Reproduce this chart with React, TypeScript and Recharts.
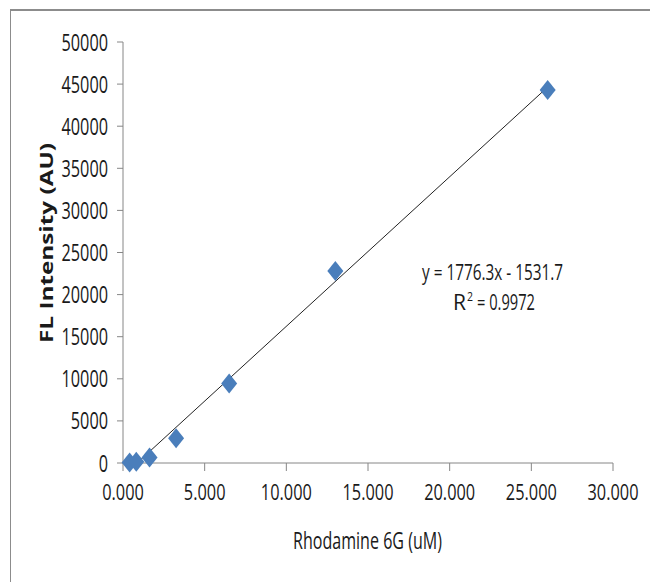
import React from 'react';
import { ScatterChart, Scatter, XAxis, YAxis } from 'recharts';

const concentrations = [0.406, 0.8125, 1.625, 3.25, 6.5, 13, 26];
const intensities = [50, 150, 650, 2950, 9450, 22800, 44300];
const xTicks = [0, 5, 10, 15, 20, 25, 30];
const yTicks = [0, 5000, 10000, 15000, 20000, 25000, 30000, 35000, 40000, 45000, 50000];
// trend line ends, clipped at the x axis
const trendX = [0.86, 26];
const trendY = [0, 44650];

const points = concentrations.map((x, i) => ({ x, y: intensities[i] }));
const trend = trendX.map((x, i) => ({ x, y: trendY[i] }));

const FONT = '"Open Sans", sans-serif';
const AXIS = '#868686';
const TEXT = '#1a1a1a';

// the original text is tall and narrow (stretched Excel chart), so squeeze it with textLength
const numWidth = (s: string) =>
  s.split('').reduce((w, c) => w + (c === '.' ? 4.5 : 9.3), 0);

const XTick = (props: any) => {
  const { x, y, payload } = props;
  const s = Number(payload.value).toFixed(3);
  return (
    <text x={x} y={y + 27} textAnchor="middle" fontFamily={FONT} fontSize={22.5} fill={TEXT}
      textLength={numWidth(s)} lengthAdjust="spacingAndGlyphs">
      {s}
    </text>
  );
};

const YTick = (props: any) => {
  const { x, y, payload } = props;
  const s = String(payload.value);
  return (
    <text x={x - 7} y={y + 8.5} textAnchor="end" fontFamily={FONT} fontSize={24} fill={TEXT}
      textLength={numWidth(s)} lengthAdjust="spacingAndGlyphs">
      {s}
    </text>
  );
};

const Diamond = (props: any) => {
  const { cx, cy } = props;
  if (cx == null || cy == null) return null;
  return (
    <polygon
      points={`${cx},${cy - 10} ${cx + 8},${cy} ${cx},${cy + 10} ${cx - 8},${cy}`}
      fill="#4A7EBB"
    />
  );
};

export default function App() {
  return (
    <div style={{ position: 'absolute', left: 0, top: 0, width: 650, height: 582, background: '#fff' }}>
      <div style={{ position: 'absolute', left: 10, top: 9, width: 640, height: 573, borderTop: '2px solid #8c8c8c', borderLeft: '1px solid #8c8c8c' }} />
      <div style={{ position: 'absolute', left: 0, top: 0 }}>
        <ScatterChart width={650} height={582} margin={{ top: 42, right: 37, bottom: 89, left: 63 }}>
          <XAxis
            type="number"
            dataKey="x"
            domain={[0, 30]}
            ticks={xTicks}
            stroke={AXIS}
            tickSize={8}
            tick={<XTick />}
            height={30}
            interval={0}
          />
          <YAxis
            type="number"
            dataKey="y"
            domain={[0, 50000]}
            ticks={yTicks}
            stroke={AXIS}
            tickSize={6}
            tick={<YTick />}
            width={60}
            interval={0}
          />
          <Scatter data={trend} line={{ stroke: '#222', strokeWidth: 1 }} shape={() => null} isAnimationActive={false} />
          <Scatter data={points} shape={Diamond} isAnimationActive={false} />
        </ScatterChart>
      </div>
      <svg width={650} height={582} style={{ position: 'absolute', left: 0, top: 0, pointerEvents: 'none' }}>
        <text x={367.5} y={549} textAnchor="middle" fontFamily={FONT} fontSize={23} fill={TEXT}
          textLength={149} lengthAdjust="spacingAndGlyphs">
          Rhodamine 6G (uM)
        </text>
        <text x={0} y={0} transform="translate(53,243) rotate(-90)" textAnchor="middle" fontFamily={FONT}
          fontWeight="bold" fontSize={17} fill={TEXT} textLength={200} lengthAdjust="spacingAndGlyphs">
          FL Intensity (AU)
        </text>
        <text x={422} y={280} fontFamily={FONT} fontSize={21} fill={TEXT}
          textLength={141} lengthAdjust="spacingAndGlyphs">
          y = 1776.3x - 1531.7
        </text>
        <text x={453} y={310} fontFamily={FONT} fontSize={21} fill={TEXT}
          textLength={13} lengthAdjust="spacingAndGlyphs">
          R
        </text>
        <text x={467} y={301} fontFamily={FONT} fontSize={12} fill={TEXT}
          textLength={6} lengthAdjust="spacingAndGlyphs">
          2
        </text>
        <text x={477} y={310} fontFamily={FONT} fontSize={21} fill={TEXT}
          textLength={58} lengthAdjust="spacingAndGlyphs">
          = 0.9972
        </text>
      </svg>
    </div>
  );
}
